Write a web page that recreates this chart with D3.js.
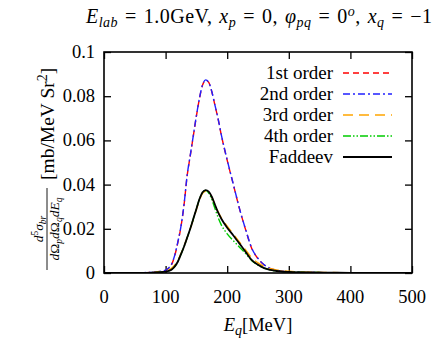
<!DOCTYPE html>
<html>
<head>
<meta charset="utf-8">
<script src="https://cdn.jsdelivr.net/npm/d3@7"></script>
<style>
  body { margin: 0; background: #fff; }
  text { font-family: "Liberation Serif", "DejaVu Serif", serif; fill: #000; }
</style>
</head>
<body>
<div id="vizArea"></div>
<script>
// energies (MeV) shared by all curves
var energies = [0, 50, 80, 100, 105, 110, 115, 120, 125, 130, 135, 140, 145, 150, 155, 160, 165, 170, 175, 180, 185, 190, 200, 210, 220, 230, 240, 250, 260, 270, 280, 300, 350, 400, 450, 500];

var first = [0, 0.0001, 0.0004, 0.0012, 0.0022, 0.004, 0.008, 0.014, 0.021, 0.031, 0.044, 0.053, 0.062, 0.071, 0.079, 0.085, 0.0873, 0.0862, 0.082, 0.076, 0.070, 0.063, 0.051, 0.040, 0.029, 0.0195, 0.011, 0.0065, 0.0036, 0.002, 0.0012, 0.0005, 0.0002, 0.0001, 0.00005, 0];
var second = [0, 0.0001, 0.0004, 0.0013, 0.0023, 0.0042, 0.0082, 0.0142, 0.0212, 0.0312, 0.0442, 0.0532, 0.0622, 0.0712, 0.0792, 0.0851, 0.0874, 0.0863, 0.0821, 0.0761, 0.0701, 0.0631, 0.0511, 0.0401, 0.0291, 0.0196, 0.0111, 0.0066, 0.0037, 0.0021, 0.0012, 0.0005, 0.0002, 0.0001, 0.00005, 0];
var third = [0, 0.0001, 0.0003, 0.0009, 0.0014, 0.0022, 0.0036, 0.0058, 0.0088, 0.0122, 0.016, 0.020, 0.0243, 0.0287, 0.0330, 0.0360, 0.0370, 0.0364, 0.0342, 0.0310, 0.0278, 0.0252, 0.0212, 0.0176, 0.014, 0.0104, 0.0068, 0.0046, 0.003, 0.002, 0.0014, 0.0008, 0.0003, 0.00015, 0.00005, 0];
var fourth = [0, 0.00005, 0.0002, 0.0006, 0.001, 0.0016, 0.003, 0.0052, 0.0085, 0.012, 0.016, 0.020, 0.0245, 0.0290, 0.0335, 0.0365, 0.0374, 0.0362, 0.0333, 0.0293, 0.0253, 0.0220, 0.0177, 0.0146, 0.0117, 0.0088, 0.0056, 0.0036, 0.0022, 0.0014, 0.0009, 0.0005, 0.0002, 0.0001, 0.00005, 0];
var faddeev = [0, 0.00005, 0.0002, 0.0006, 0.001, 0.0016, 0.003, 0.0052, 0.0085, 0.012, 0.016, 0.020, 0.0245, 0.0290, 0.0335, 0.0365, 0.0375, 0.0368, 0.0345, 0.0310, 0.0275, 0.0248, 0.0205, 0.0170, 0.0133, 0.0095, 0.0058, 0.0037, 0.0022, 0.0014, 0.0009, 0.0005, 0.0002, 0.0001, 0.00005, 0];

var seriesNames = ["1st order", "2nd order", "3rd order", "4th order", "Faddeev"];
var xTicks = [0, 100, 200, 300, 400, 500];
var yTicks = [0, 0.02, 0.04, 0.06, 0.08, 0.1];
var yTickLabels = ["0", "0.02", "0.04", "0.06", "0.08", "0.1"];

var W = 436, H = 347;
var pL = 104, pR = 412, pT = 52, pB = 273;
var fs = "18.5px";

var canvas = d3.select("#vizArea")
  .append("svg")
    .attr("width", W)
    .attr("height", H);

var x = d3.scaleLinear().domain([0, 500]).range([pL, pR]);
var y = d3.scaleLinear().domain([0, 0.1]).range([pB, pT]);

// inward ticks on all four sides
var tk = 7;
canvas.append("g").attr("transform", "translate(0," + pB + ")")
  .call(d3.axisTop(x).tickValues(xTicks).tickSize(tk).tickFormat(""));
canvas.append("g").attr("transform", "translate(0," + pT + ")")
  .call(d3.axisBottom(x).tickValues(xTicks).tickSize(tk).tickFormat(""));
canvas.append("g").attr("transform", "translate(" + pL + ",0)")
  .call(d3.axisRight(y).tickValues(yTicks).tickSize(tk).tickFormat(""));
canvas.append("g").attr("transform", "translate(" + pR + ",0)")
  .call(d3.axisLeft(y).tickValues(yTicks).tickSize(tk).tickFormat(""));
canvas.selectAll(".domain").remove();
canvas.selectAll(".tick line").attr("stroke", "#000").attr("stroke-width", 1.3);

// tick labels
canvas.selectAll(".xlab").data(xTicks).enter().append("text")
  .attr("x", function (d) { return x(d); })
  .attr("y", pB + 30)
  .attr("text-anchor", "middle")
  .style("font-size", fs)
  .text(function (d) { return d; });
canvas.selectAll(".ylab").data(yTicks).enter().append("text")
  .attr("x", pL - 9)
  .attr("y", function (d) { return y(d) + 6; })
  .attr("text-anchor", "end")
  .style("font-size", fs)
  .text(function (d, i) { return yTickLabels[i]; });

// curves
var styles = [
  { vals: first, color: "#ff0000", dash: "6,4", w: 1.4 },
  { vals: second, color: "#2020ff", dash: "7,3,2,3", w: 1.4 },
  { vals: third, color: "#ffa500", dash: "10,6", w: 1.4 },
  { vals: fourth, color: "#00cc00", dash: "8,2,1.5,2,1.5,2", w: 1.4 },
  { vals: faddeev, color: "#000000", dash: null, w: 1.8 }
];

var line = d3.line()
  .x(function (d) { return x(d[0]); })
  .y(function (d) { return y(d[1]); })
  .curve(d3.curveMonotoneX);

canvas.append("clipPath").attr("id", "clip")
  .append("rect").attr("x", pL).attr("y", pT).attr("width", pR - pL).attr("height", pB - pT);

styles.forEach(function (s) {
  canvas.append("path")
    .datum(energies.map(function (e, i) { return [e, s.vals[i]]; }))
    .attr("clip-path", "url(#clip)")
    .attr("d", line)
    .attr("fill", "none")
    .attr("stroke", s.color)
    .attr("stroke-width", s.w)
    .attr("stroke-dasharray", s.dash);
});

// frame
canvas.append("rect")
  .attr("x", pL).attr("y", pT)
  .attr("width", pR - pL).attr("height", pB - pT)
  .attr("fill", "none").attr("stroke", "#000").attr("stroke-width", 1.6);

// legend
var lg = canvas.append("g");
styles.forEach(function (s, i) {
  var ly = 73 + i * 21;
  lg.append("text").attr("x", 333).attr("y", ly + 6)
    .attr("text-anchor", "end").style("font-size", "19px")
    .text(seriesNames[i]);
  lg.append("line").attr("x1", 343).attr("x2", 392).attr("y1", ly).attr("y2", ly)
    .attr("stroke", s.color).attr("stroke-width", s.w)
    .attr("stroke-dasharray", s.dash);
});

// helper for math-ish text pieces
function part(t, txt, opts) {
  var ts = t.append("tspan").text(txt);
  opts = opts || {};
  if (opts.it) ts.style("font-style", "italic");
  if (opts.sub) ts.attr("dy", 4).style("font-size", "14px");
  if (opts.sup) ts.attr("dy", -7).style("font-size", "14px");
  if (opts.dy) ts.attr("dy", opts.dy);
  if (opts.dx) ts.attr("dx", opts.dx);
  return ts;
}

// title
var gap = 7;
var title = canvas.append("text").attr("x", 86).attr("y", 23)
  .style("font-size", "20px")
  .attr("textLength", 346).attr("lengthAdjust", "spacing");
part(title, "E", { it: 1 });
part(title, "lab", { it: 1, sub: 1 });
part(title, "=", { dy: -4, dx: gap });
part(title, "1.0GeV,", { dx: gap });
part(title, "x", { it: 1, dx: gap });
part(title, "p", { it: 1, sub: 1 });
part(title, "=", { dy: -4, dx: gap });
part(title, "0,", { dx: gap });
part(title, "φ", { it: 1, dx: gap });
part(title, "pq", { it: 1, sub: 1 });
part(title, "=", { dy: -4, dx: gap });
part(title, "0", { dx: gap });
part(title, "o", { it: 1, sup: 1 });
part(title, ",", { dy: 7 });
part(title, "x", { it: 1, dx: gap });
part(title, "q", { it: 1, sub: 1 });
part(title, "=", { dy: -4, dx: gap });
part(title, "−1", { dx: gap });

// x label
var xl = canvas.append("text").attr("x", 258).attr("y", 331)
  .attr("text-anchor", "middle").style("font-size", fs);
part(xl, "E", { it: 1 });
part(xl, "q", { it: 1, sub: 1 });
part(xl, "[MeV]", { dy: -4 });

// y label (rotated fraction + units)
var yl = canvas.append("g").attr("transform", "translate(47,270) rotate(-90)");
yl.append("line").attr("x1", 0).attr("x2", 82).attr("y1", 0).attr("y2", 0)
  .attr("stroke", "#000").attr("stroke-width", 0.9);
var num = yl.append("text").attr("x", 41).attr("y", -4).attr("text-anchor", "middle").style("font-size", "13.5px");
part(num, "d", { it: 1 });
part(num, "5", { dy: -5 }).style("font-size", "9.5px");
part(num, "σ", { it: 1, dy: 5 });
part(num, "br", { it: 1, dy: 3 }).style("font-size", "9.5px");
var den = yl.append("text").attr("x", 41).attr("y", 12).attr("text-anchor", "middle").style("font-size", "13.5px");
part(den, "d", { it: 1 });
part(den, "Ω");
part(den, "p", { it: 1, dy: 3 }).style("font-size", "9.5px");
part(den, "d", { it: 1, dy: -3 });
part(den, "Ω");
part(den, "q", { it: 1, dy: 3 }).style("font-size", "9.5px");
part(den, "dE", { it: 1, dy: -3 });
part(den, "q", { it: 1, dy: 3 }).style("font-size", "9.5px");
var unit = yl.append("text").attr("x", 90).attr("y", 7).style("font-size", "19.5px");
part(unit, "[mb/MeV Sr");
part(unit, "2", { sup: 1 });
part(unit, "]", { dy: 7 });
</script>
</body>
</html>
